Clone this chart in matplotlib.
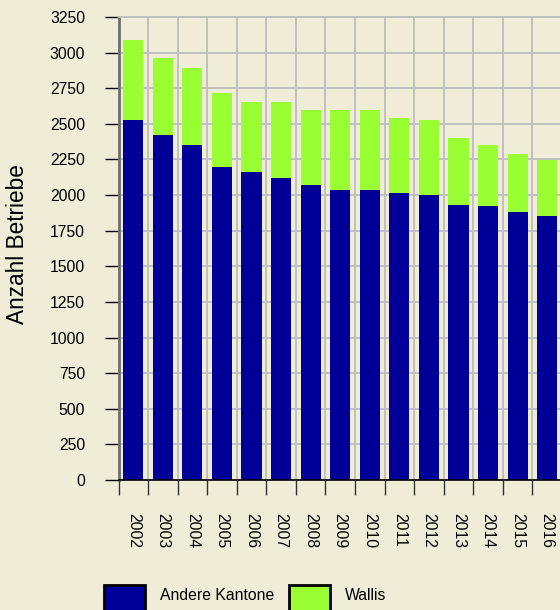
import numpy as np
import matplotlib.pyplot as plt
from matplotlib.patches import Patch, Rectangle
from matplotlib.legend_handler import HandlerPatch

plt.rcParams["font.family"] = ["Liberation Sans", "DejaVu Sans"]

years = [str(y) for y in range(2002, 2017)]
andere_kantone = [2527, 2421, 2351, 2197, 2162, 2119, 2070, 2035, 2035, 2014, 2000, 1930, 1923, 1881, 1853]
wallis = [561, 541, 541, 519, 491, 534, 527, 562, 562, 527, 527, 470, 428, 407, 393]
yticks = list(range(0, 3251, 250))
series_labels = ["Andere Kantone", "Wallis"]

bg = "#EFEDD8"
blue = "#000099"
green = "#99FF33"
grid_col = "#C0C0C0"


def tall_box(legend, orig_handle, xdescent, ydescent, width, height, fontsize):
    # legend boxes in the original run off the bottom edge
    extra = 12
    return Rectangle((-xdescent, -ydescent - extra), width, height + extra)


def main():
    fig = plt.figure(figsize=(5.6, 6.1), dpi=100, facecolor=bg)
    # plot area runs past the right edge, like the original
    ax = fig.add_axes([118.5 / 560, 130 / 610, 443.5 / 560, 463 / 610])
    ax.set_facecolor(bg)

    x = np.arange(len(years))
    ax.bar(x, andere_kantone, width=0.68, color=blue, zorder=3)
    ax.bar(x, wallis, width=0.68, bottom=andere_kantone, color=green, zorder=3)

    ax.set_xlim(-0.5, len(years) - 0.5)
    ax.set_ylim(0, 3250)
    ax.set_yticks(yticks)

    # ticks on slot boundaries, labels at bar centres
    ax.set_xticks(np.arange(-0.5, len(years), 1))
    ax.set_xticklabels([])
    ax.set_xticks(x, minor=True)
    ax.set_xticklabels(years, minor=True, rotation=270, fontsize=11.3)

    ax.tick_params(axis="x", which="major", length=11, width=1, color="#333333")
    ax.tick_params(axis="x", which="minor", length=0, pad=24)
    ax.tick_params(axis="y", length=10, width=1, color="black", pad=14, labelsize=11.3)

    ax.grid(True, which="major", color=grid_col, linewidth=1.4, zorder=0)
    ax.set_axisbelow(True)

    ax.spines["left"].set_color("#6E6E6E")
    ax.spines["left"].set_linewidth(2)
    ax.spines["bottom"].set_color("black")
    ax.spines["bottom"].set_linewidth(1.2)
    ax.spines["bottom"].set_zorder(4)
    ax.spines["top"].set_color(grid_col)
    ax.spines["top"].set_linewidth(1.4)
    ax.spines["right"].set_visible(False)

    ax.set_ylabel("Anzahl Betriebe", fontsize=16.3, va="center")
    ax.yaxis.set_label_coords(-0.228, 0.51)

    handles = [
        Patch(facecolor=blue, edgecolor="black", linewidth=2),
        Patch(facecolor=green, edgecolor="black", linewidth=2),
    ]
    fig.legend(
        handles,
        series_labels,
        loc="upper left",
        bbox_to_anchor=(104 / 560, 1 - 585 / 610),
        ncol=2,
        frameon=False,
        fontsize=11.3,
        handlelength=2.6,
        handleheight=1.6,
        handletextpad=0.95,
        columnspacing=0.95,
        borderpad=0,
        borderaxespad=0,
        handler_map={Patch: HandlerPatch(patch_func=tall_box)},
    )

    fig.savefig("out.png", dpi=100, facecolor=bg)
    plt.close(fig)


if __name__ == "__main__":
    main()
